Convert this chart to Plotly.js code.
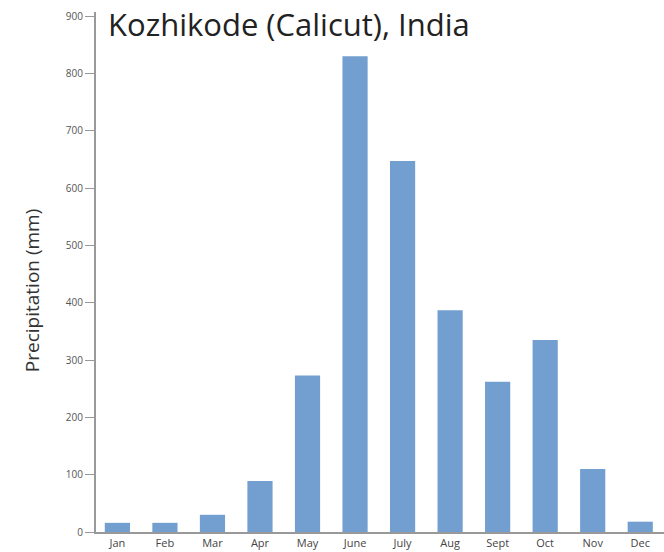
<!DOCTYPE html>
<html>
<head>
<meta charset="utf-8">
<script src="https://cdn.plot.ly/plotly-3.0.1.min.js"></script>
<style>html,body{margin:0;padding:0;background:#fff;}#chart{width:664px;height:552px;}</style>
</head>
<body>
<div id="chart"></div>
<script>
var months = ["Jan","Feb","Mar","Apr","May","June","July","Aug","Sept","Oct","Nov","Dec"];
var precipitation = [16, 16, 30, 89, 273, 830, 647, 387, 262, 335, 110, 18];
var yTicks = [0,100,200,300,400,500,600,700,800,900];

var trace = {
  type: "bar",
  x: months,
  y: precipitation,
  marker: {color: "#739fd0"},
  hoverinfo: "x+y"
};

var layout = {
  width: 664, height: 552,
  margin: {l: 96, r: 0, t: 12, b: 20},
  paper_bgcolor: "#fff", plot_bgcolor: "#fff",
  bargap: 0.47,
  showlegend: false,
  font: {family: "Open Sans, sans-serif", color: "#444"},
  xaxis: {
    type: "category",
    range: [-0.45, 11.5],
    showline: true, linecolor: "#999", linewidth: 2,
    ticks: "", showgrid: false, zeroline: false,
    tickfont: {size: 11, color: "#444"},
    fixedrange: true
  },
  yaxis: {
    range: [0, 907],
    tickvals: yTicks,
    ticktext: yTicks.map(String),
    showline: true, linecolor: "#999", linewidth: 2,
    ticks: "outside", ticklen: 9, tickcolor: "#999", tickwidth: 1,
    showgrid: false, zeroline: false,
    tickfont: {size: 10, color: "#555"},
    fixedrange: true
  },
  annotations: [{
    text: "Kozhikode (Calicut), India",
    xref: "paper", yref: "paper",
    x: 0.017, y: 1.021, xanchor: "left", yanchor: "top",
    showarrow: false,
    font: {size: 31, color: "#222", family: "Open Sans, sans-serif"}
  }, {
    text: "Precipitation (mm)",
    xref: "paper", yref: "paper",
    x: -0.1127, y: 0.465, xanchor: "center", yanchor: "middle",
    textangle: -90,
    showarrow: false,
    font: {size: 19, color: "#333", family: "Open Sans, sans-serif"}
  }]
};

Plotly.newPlot("chart", [trace], layout, {displayModeBar: false, staticPlot: true});
</script>
</body>
</html>
